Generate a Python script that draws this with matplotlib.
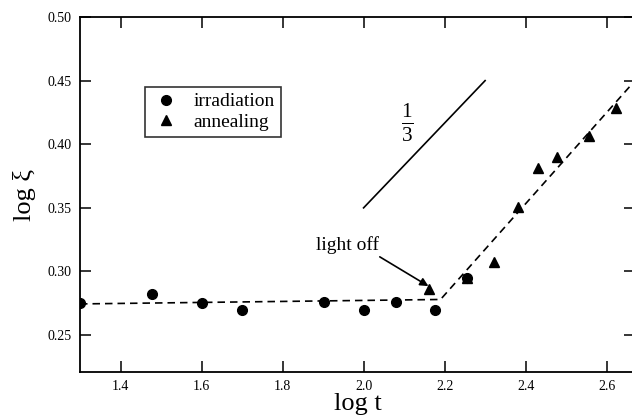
import matplotlib
matplotlib.use("Agg")
import matplotlib.pyplot as plt

plt.rcParams['font.family'] = ['Liberation Serif', 'DejaVu Serif']
plt.rcParams['mathtext.fontset'] = 'custom'
plt.rcParams['mathtext.rm'] = 'Liberation Serif'
plt.rcParams['mathtext.it'] = 'Liberation Serif:italic'

# irradiation (circles)
irr_logt = [1.30, 1.477, 1.60, 1.70, 1.903, 2.00, 2.079, 2.176, 2.255]
irr_logxi = [0.2755, 0.282, 0.2755, 0.2695, 0.2758, 0.2698, 0.2758, 0.2698, 0.2950]

# annealing (triangles)
ann_logt = [2.161, 2.255, 2.322, 2.380, 2.431, 2.477, 2.556, 2.623]
ann_logxi = [0.2865, 0.2950, 0.3075, 0.3505, 0.3815, 0.3900, 0.4065, 0.4285]

# piecewise dashed fit
fit_logt = [1.30, 2.19, 2.67]
fit_logxi = [0.2745, 0.278, 0.450]

# slope 1/3 guide
guide_logt = [2.0, 2.3]
guide_logxi = [0.35, 0.45]

fig = plt.figure(figsize=(6.32, 4.16), dpi=100)
ax = fig.add_axes([80 / 632, 1 - 372 / 416, 555 / 632, 355 / 416])

ax.plot(fit_logt, fit_logxi, ls=(0, (4.5, 3)), color='black', lw=1.2, zorder=1)
ax.plot(guide_logt, guide_logxi, color='black', lw=1.2)
ax.plot(irr_logt, irr_logxi, 'o', color='black', ms=7, label='irradiation', zorder=3)
ax.plot(ann_logt, ann_logxi, '^', color='black', ms=7.5, label='annealing', zorder=3)

ax.text(2.107, 0.417, r'$\frac{1}{3}$', fontsize=22, ha='center', va='center')
ax.text(1.96, 0.3205, 'light off', fontsize=14, ha='center', va='center')
ax.annotate('', xy=(2.160, 0.2885), xytext=(2.040, 0.3115),
            arrowprops=dict(arrowstyle='-|>', color='black', lw=1.2,
                            mutation_scale=12, shrinkA=0, shrinkB=0))

ax.set_xlim(1.3, 2.67)
ax.set_ylim(0.221, 0.50)
ax.set_xticks([1.4, 1.6, 1.8, 2.0, 2.2, 2.4, 2.6])
ax.set_xticklabels(['1.4', '1.6', '1.8', '2.0', '2.2', '2.4', '2.6'])
ax.set_yticks([0.25, 0.30, 0.35, 0.40, 0.45, 0.50])
ax.set_yticklabels(['0.25', '0.30', '0.35', '0.40', '0.45', '0.50'])
ax.tick_params(direction='in', length=8, width=1.1, labelsize=10,
               top=True, right=True, pad=6)
for sp in ax.spines.values():
    sp.set_linewidth(1.3)

ax.set_xlabel('log t', fontsize=19, labelpad=0)
ax.set_ylabel('log ξ', fontsize=19, labelpad=8)

leg = ax.legend(loc='upper left', bbox_to_anchor=(65 / 555, 1 - 70 / 355),
                fontsize=14, frameon=True, fancybox=False, edgecolor='black',
                handletextpad=0.6, borderpad=0.3, labelspacing=0.15,
                handlelength=1.6, borderaxespad=0)
leg.get_frame().set_linewidth(1.2)

fig.savefig('out.png', dpi=100)
